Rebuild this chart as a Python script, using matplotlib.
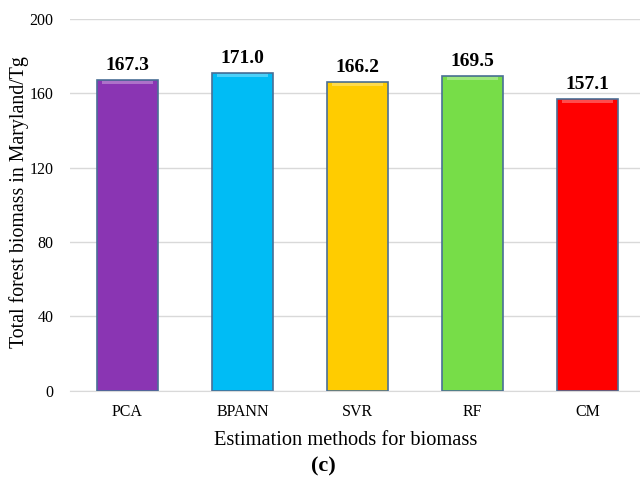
import numpy as np
import matplotlib.pyplot as plt

plt.rcParams['font.family'] = ['Liberation Serif', 'DejaVu Serif']

methods = ['PCA', 'BPANN', 'SVR', 'RF', 'CM']
biomass = [167.3, 171.0, 166.2, 169.5, 157.1]
colors = ['#8a35b3', '#00bcf5', '#ffcc00', '#77dd48', '#ff0000']
yticks = [0, 40, 80, 120, 160, 200]

fig = plt.figure(figsize=(6.4, 4.86), dpi=100)
ax = fig.add_axes([70/640, 95.5/486, 575/640, 371.5/486])

x = np.arange(len(methods))
bars = ax.bar(x, biomass, width=0.53, color=colors, edgecolor='#4a6f96',
              linewidth=1.2, zorder=3)
# light top strip for the bevel look
for xi, v in zip(x, biomass):
    ax.bar(xi, 1.6, bottom=v - 2.2, width=0.45, color='white', alpha=0.3,
           linewidth=0, zorder=4)

for xi, v in zip(x, biomass):
    ax.text(xi, v + 3, f'{v:.1f}', ha='center', va='bottom',
            fontsize=14, fontweight='bold')

ax.set_xlim(-0.5, 4.5)
ax.set_ylim(0, 200)
ax.set_yticks(yticks)
ax.set_xticks(x)
ax.set_xticklabels(methods)
ax.tick_params(length=0, labelsize=11.5)
ax.tick_params(axis='x', pad=10)
ax.tick_params(axis='y', pad=12)
ax.yaxis.grid(True, color='#d9d9d9', linewidth=1, zorder=0)
for s in ['top', 'right', 'left']:
    ax.spines[s].set_visible(False)
ax.spines['bottom'].set_color('#d9d9d9')

fig.text(346/640, 1 - 440/486, 'Estimation methods for biomass',
         ha='center', va='center', fontsize=14.7)
fig.text(19/640, 1 - 202/486, 'Total forest biomass in Maryland/Tg',
         ha='center', va='center', rotation=90, fontsize=14.3)
fig.text(323/640, 1 - 466/486, '(c)', ha='center', va='center',
         fontsize=16, fontweight='bold')

plt.savefig('out.png', dpi=100)
